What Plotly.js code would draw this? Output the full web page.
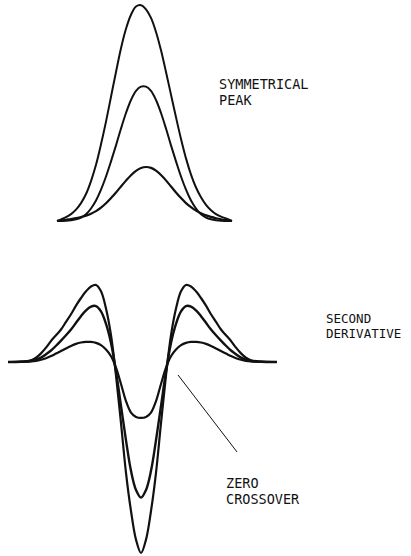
<!DOCTYPE html>
<html>
<head>
<meta charset="utf-8">
<script src="https://cdn.plot.ly/plotly-3.0.1.min.js"></script>
<style>
  html, body { margin: 0; padding: 0; background: #ffffff; }
  #chart { width: 411px; height: 556px; }
</style>
</head>
<body>
<div id="chart"></div>
<script>
// Peak profiles (relative intensity) sampled along the retention axis
const topX = [-8.4, -7.5, -7, -6.5, -6, -5.5, -5, -4.5, -4, -3.5, -3, -2.5, -2, -1.5, -1, -0.5,
              0, 0.5, 1, 1.5, 2, 2.5, 3, 3.5, 4, 4.5, 5, 5.5, 6, 6.5, 7, 7.5, 8, 8.5, 9.1];
const tallPeak  = [0, 1.8, 3.2, 5.3, 8.3, 12.5, 18.5, 26, 35.5, 46, 57.5, 69, 80, 89, 95.5, 99.3,
                   99.9, 98, 94, 87.5, 79, 69, 58.5, 48, 38, 29, 21.5, 15.5, 11, 7.5, 5, 3.2, 2, 1.2, 0];
const midPeak   = [0, 0.1, 0.35, 0.8, 1.6, 3.1, 5.8, 9.5, 14.5, 20.6, 27.6, 35, 42.8, 50, 56, 60.2,
                   62.2, 62.2, 60.2, 56, 50, 42.8, 35, 27.6, 20.6, 14.5, 9.5, 5.8, 3.1, 1.6, 0.8, 0.35, 0.1, 0.05, 0];
const smallPeak = [0, 0.6, 0.9, 1.3, 1.8, 2.5, 3.4, 4.6, 6.2, 8.2, 10.6, 13.2, 16, 18.7, 21.2, 23.2,
                   24.5, 25, 24.6, 23.3, 21.3, 18.8, 16, 13.2, 10.6, 8.3, 6.4, 4.8, 3.6, 2.6, 1.9, 1.3, 0.8, 0.4, 0];

// Second derivative of each peak
const derivX = [-13.3, -12, -11, -10.5, -10, -9.5, -9, -8.5, -8, -7.5, -7, -6.5, -6, -5.5, -5, -4.5,
                -4, -3.5, -3, -2.5, -2, -1.5, -1, -0.5, 0, 0.5, 1, 1.5, 2, 2.5, 3, 3.5,
                4, 4.5, 5, 5.5, 6, 6.5, 7, 7.5, 8, 8.5, 9, 9.5, 10, 10.5, 11, 12, 13.6];
const tallDeriv  = [0, 0.2, 0.9, 2.2, 4.5, 7.5, 11, 14, 17, 21, 25, 29.5, 33.5, 37, 39.5, 40.3,
                    37, 28, 14, -7, -32, -58, -78, -93, -100, -93, -78, -58, -32, -7, 14, 28,
                    37, 40.3, 39.5, 37, 33.5, 29.5, 25, 21, 17, 14, 11, 7.5, 4.5, 2.2, 0.9, 0.2, 0];
const midDeriv   = [0, 0.1, 0.5, 1.2, 2.3, 4, 6, 8.5, 11.2, 14, 17, 20.5, 24, 27, 29, 29.3,
                    26.5, 20, 10, -5, -23, -41, -57, -67, -71, -67, -57, -41, -23, -5, 10, 20,
                    26.5, 29.3, 29, 27, 24, 20.5, 17, 14, 11.2, 8.5, 6, 4, 2.3, 1.2, 0.5, 0.1, 0];
const smallDeriv = [0, 0.1, 0.3, 0.6, 1.2, 2, 3.1, 4.4, 5.7, 7.1, 8.4, 9.5, 10.2, 10.5, 10.5, 10,
                    8.8, 6.5, 3, -3, -11.5, -20.5, -26.5, -28.8, -29.3, -28.8, -26.5, -20.5, -11.5, -3, 3, 6.5,
                    8.8, 10, 10.5, 10.5, 10.2, 9.5, 8.4, 7.1, 5.7, 4.4, 3.1, 2, 1.2, 0.6, 0.3, 0.1, 0];

const peakLabel = ['SYMMETRICAL', 'PEAK'];
const derivLabel = ['SECOND', 'DERIVATIVE'];
const crossLabel = ['ZERO', 'CROSSOVER'];

const W = 411, H = 556;
const ink = '#111111';

function curve(x, y, yaxis, width) {
  return {
    x: x, y: y, yaxis: yaxis, type: 'scatter', mode: 'lines',
    line: { color: ink, width: width, shape: 'spline', smoothing: 1 },
    hoverinfo: 'skip', showlegend: false
  };
}

const data = [
  curve(topX, tallPeak, 'y', 2),
  curve(topX, midPeak, 'y', 2),
  curve(topX, smallPeak, 'y', 2.2),
  curve(derivX, tallDeriv, 'y2', 2.2),
  curve(derivX, midDeriv, 'y2', 2.4),
  curve(derivX, smallDeriv, 'y2', 2.2)
];

// text placed by pixel position on the page
function label(text, px, py, size) {
  return {
    text: text, xref: 'paper', yref: 'paper',
    x: px / W, y: 1 - py / H, xanchor: 'left', yanchor: 'middle',
    showarrow: false, borderpad: 0,
    font: { family: 'DejaVu Sans Mono, monospace', size: size, color: ink }
  };
}

const annotations = [
  label(peakLabel[0], 218, 83.5, 13.5),
  label(peakLabel[1], 218, 100.5, 13.5),
  label(derivLabel[0], 325, 318, 12.5),
  label(derivLabel[1], 325, 333, 12.5),
  label(crossLabel[0], 225, 483, 13.5),
  label(crossLabel[1], 225, 498.5, 13.5)
];

const layout = {
  width: W, height: H,
  margin: { l: 0, r: 0, t: 0, b: 0 },
  paper_bgcolor: '#ffffff', plot_bgcolor: '#ffffff',
  showlegend: false,
  xaxis: { range: [-14.1, 27], visible: false, fixedrange: true },
  yaxis: { domain: [0.58, 1], range: [-5.79, 102.31], visible: false, fixedrange: true },
  yaxis2: { domain: [0, 0.52], range: [-101.57, 49.79], visible: false, fixedrange: true },
  annotations: annotations,
  shapes: [{
    type: 'line', xref: 'x', yref: 'y2',
    x0: 3.7, y0: -6.8, x1: 9.6, y1: -47.1,
    line: { color: ink, width: 1 }
  }]
};

Plotly.newPlot('chart', data, layout, { staticPlot: true, displayModeBar: false });
</script>
</body>
</html>
